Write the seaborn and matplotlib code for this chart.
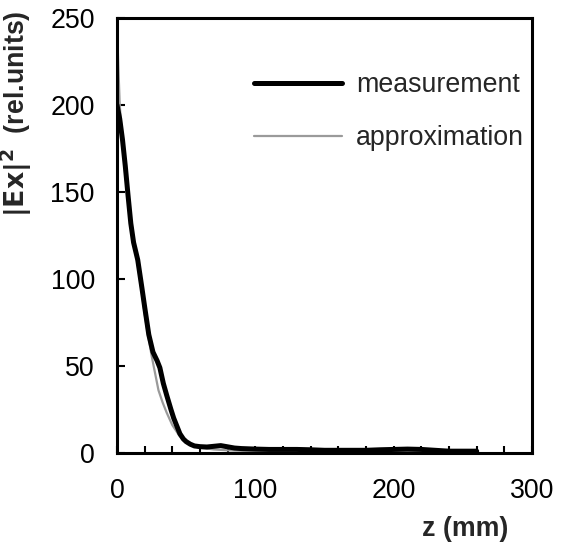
import pandas as pd
import matplotlib
matplotlib.use("Agg")
import matplotlib.pyplot as plt
import seaborn as sns
from matplotlib.ticker import MultipleLocator

# measured |Ex|^2 profile
z_meas = [0, 2, 4, 6, 8, 10, 12, 15, 18, 20, 23, 26, 29, 31, 33.5, 36, 39, 41,
          43.5, 45.5, 48, 50, 53, 56, 60, 65, 70, 75, 80, 85, 90, 100, 110, 120,
          130, 140, 150, 160, 170, 180, 190, 200, 210, 220, 230, 240, 250, 260]
meas = [200, 192, 180, 165, 148, 132, 121, 111, 95, 84, 68, 58, 53, 49, 40, 33,
        25, 20, 15, 11, 8, 6.5, 5, 4, 3.6, 3.4, 3.8, 4.2, 3.5, 2.8, 2.5, 2.2, 2,
        2, 2, 1.8, 1.5, 1.5, 1.5, 1.5, 1.8, 2, 2.2, 2, 1.5, 1, 1, 1]

# fitted approximation
z_appr = [0, 1, 2, 4, 6, 8, 10, 12, 15, 18, 20, 22, 25, 28, 30, 33, 36, 40, 45,
          50, 55, 60, 70, 80, 90, 100, 120, 150, 200, 260]
appr = [246, 222, 200, 178, 160, 146, 134, 123, 108, 92, 80, 70, 56, 44, 36,
        29, 23, 16, 10, 6, 4, 3, 2, 1.5, 1.2, 1, 0.8, 0.6, 0.5, 0.4]

sns.set_style("ticks")
plt.rcParams["font.family"] = ["Liberation Sans", "DejaVu Sans"]
FS = 19.3

fig = plt.figure(figsize=(5.64, 5.47), dpi=100)
ax = fig.add_axes([0.2074, 0.172, 0.7359, 0.795])

df_m = pd.DataFrame({"z": z_meas, "v": meas})
df_a = pd.DataFrame({"z": z_appr, "v": appr})

sns.lineplot(data=df_m, x="z", y="v", ax=ax, color="black", linewidth=3.6,
             label="measurement", zorder=3)
sns.lineplot(data=df_a, x="z", y="v", ax=ax, color="#9a9a9a", linewidth=1.6,
             label="approximation", zorder=2)

ax.set_xlim(0, 300)
ax.set_ylim(0, 250)
ax.xaxis.set_major_locator(MultipleLocator(100))
ax.xaxis.set_minor_locator(MultipleLocator(20))
ax.yaxis.set_major_locator(MultipleLocator(50))

for s in ax.spines.values():
    s.set_visible(True)
    s.set_linewidth(2.2)
    s.set_color("black")

ax.tick_params(axis="both", which="both", direction="in", width=1.5,
               color="black", labelsize=FS, labelcolor="black")
ax.tick_params(axis="x", which="both", length=5, pad=18)
ax.tick_params(axis="y", which="major", length=6, pad=16)

ax.set_xlabel("z (mm)", fontsize=FS, fontweight="bold")
ax.xaxis.set_label_coords(0.84, -0.145)
ax.set_ylabel(r"$\mathbf{|Ex|^{2}}$  (rel.units)", fontsize=FS,
              fontweight="bold")
ax.yaxis.set_label_coords(-0.2, 0.78)

ax.legend(loc="upper left", bbox_to_anchor=(0.33, 0.875), frameon=False,
          fontsize=FS, handlelength=3.3, handletextpad=0.5,
          labelspacing=1.0, borderpad=0, borderaxespad=0)

fig.savefig("out.png", dpi=100)
